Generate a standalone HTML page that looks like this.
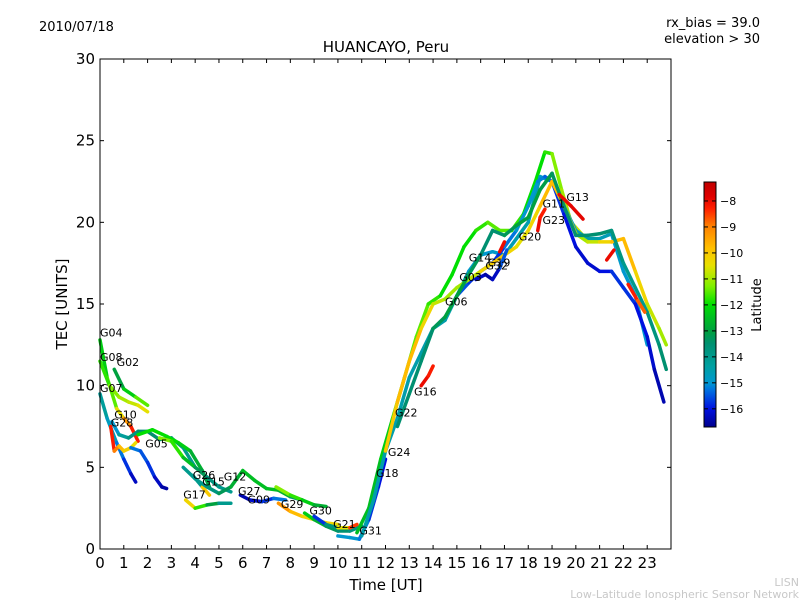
<!DOCTYPE html>
<html><head><meta charset="utf-8"><style>
body{margin:0;background:#fff;}
svg text{font-family:"DejaVu Sans","Liberation Sans",sans-serif;}
</style></head><body>
<svg id="chart" width="800" height="600" xmlns="http://www.w3.org/2000/svg">
<defs>
<linearGradient id="cmap" x1="0" y1="1" x2="0" y2="0"></linearGradient>
</defs>
<text x="39" y="31" font-size="13">2010/07/18</text>
<text x="760" y="27" font-size="13" text-anchor="end">rx_bias = 39.0</text>
<text x="760" y="43" font-size="13" text-anchor="end">elevation &gt; 30</text>
<text x="386" y="52" font-size="15" text-anchor="middle">HUANCAYO, Peru</text>
<text x="386" y="590" font-size="15" text-anchor="middle">Time [UT]</text>
<text x="67" y="304" font-size="15" text-anchor="middle" transform="rotate(-90 67 304)">TEC [UNITS]</text>
<text x="799" y="586" font-size="11" fill="#c8c8c8" text-anchor="end">LISN</text>
<text x="799" y="598" font-size="11" fill="#c8c8c8" text-anchor="end">Low-Latitude Ionospheric Sensor Network</text>
<g id="marks"></g>
<g id="labels" font-size="11"></g>
<rect x="100" y="59" width="571" height="490" fill="none" stroke="#000" stroke-width="1"/>
<g id="axes"></g>
<rect x="704" y="182" width="12" height="245" fill="url(#cmap)" stroke="#000" stroke-width="1"/>
<g id="cbticks" font-size="11"></g>
<text x="761" y="305" font-size="13" text-anchor="middle" transform="rotate(-90 761 305)">Latitude</text>
</svg>
<script>
const xTicks=[0,1,2,3,4,5,6,7,8,9,10,11,12,13,14,15,16,17,18,19,20,21,22,23];
const yTicks=[0,5,10,15,20,25,30];
const cbTicks=[-8,-9,-10,-11,-12,-13,-14,-15,-16];
const latMin=-16.7, latMax=-7.27;
const tracks=[
{t:[0,0.3,0.7,1.0,1.3,1.6],v:[12.8,10.5,8.6,8.0,7.5,6.6],lat:[-12.5,-12,-11,-10,-8.5,-8]},
{t:[0,0.4,0.8,1.2,1.6,2.0],v:[11.5,10,9.3,9.0,8.8,8.4],lat:[-12,-11.5,-11,-11,-10.5,-10.5]},
{t:[0.6,1.0,1.5,2.0],v:[11,9.8,9.3,8.8],lat:[-13.5,-12.5,-12,-11]},
{t:[0,0.3,0.7,1.0,1.3,1.5],v:[9.5,8,6.5,5.5,4.6,4.1],lat:[-14,-14.5,-15,-15.5,-16,-16.5]},
{t:[0.45,0.6,0.8,1.0,1.3,1.5],v:[7.5,6.0,6.3,6.0,6.2,6.5],lat:[-8,-8.5,-9.5,-10,-10.3,-10.5]},
{t:[0.5,0.8,1.2,1.6,2.0,2.5,3.0,3.5,4.0],v:[7.8,7.0,6.8,7.2,7.2,6.7,6.8,6.2,5.0],lat:[-15.5,-14.5,-14,-13.5,-13.5,-13.5,-13.5,-14,-14]},
{t:[1.3,1.7,2.0,2.3,2.6,2.8],v:[6.2,6.0,5.3,4.4,3.8,3.7],lat:[-15,-15.5,-15.5,-16,-16.5,-16.5]},
{t:[1.6,2.2,2.8,3.3,3.8,4.3,4.6],v:[7.0,7.3,6.9,6.5,6.0,4.8,3.8],lat:[-12,-12,-12,-12,-12.5,-13,-13]},
{t:[2.5,3.0,3.5,4.0,4.5,5.0,5.5],v:[6.8,6.6,5.6,5.0,4.4,3.8,3.5],lat:[-11,-11.5,-12,-13,-13.5,-14,-14]},
{t:[3.6,4.0,4.5,5.0,5.5],v:[3.0,2.5,2.7,2.8,2.8],lat:[-9.5,-11,-12.5,-13.5,-14.5]},
{t:[3.9,4.3,4.6],v:[4.5,3.8,3.3],lat:[-16,-12,-8]},
{t:[3.5,4.0,4.5,5.0,5.5,6.0,6.5,7.0,7.5,8.0,8.5],v:[5.0,4.3,3.8,3.4,3.8,4.8,4.2,3.7,3.6,3.2,3.0],lat:[-14,-14,-14,-13.5,-13,-12.5,-12.5,-12.5,-12.5,-13,-14]},
{t:[5.9,6.3,6.8,7.3,7.8],v:[3.3,3.0,2.9,3.1,3.0],lat:[-16.5,-16.3,-16,-15.5,-15]},
{t:[7.4,8.0,8.5,9.0,9.5],v:[3.8,3.3,3.0,2.7,2.6],lat:[-11,-11.5,-12,-12.5,-13]},
{t:[7.5,8.0,8.5,9.0,9.5,10.0],v:[2.8,2.3,2.0,1.8,1.6,1.5],lat:[-9,-9.5,-10,-10.5,-10.5,-10]},
{t:[8.6,9.0,9.5,10.0,10.5,11.0],v:[2.2,1.8,1.4,1.1,1.1,1.4],lat:[-12,-12.5,-13,-13.5,-13.5,-14]},
{t:[9.0,9.5,10.0,10.5,10.8],v:[2.0,1.5,1.3,1.3,1.5],lat:[-16,-15.5,-12,-9,-8]},
{t:[10.0,10.5,10.9,11.3,11.7,12.0],v:[0.8,0.7,0.6,1.8,3.8,5.5],lat:[-15,-15,-15,-15.5,-16,-16]},
{t:[10.8,11.3,11.8,12.3,12.8,13.3,13.8,14.3,14.8,15.3,15.8,16.3,16.8,17.3,17.8,18.3,18.7,19.0,19.4,19.8,20.3],v:[1.0,2.5,5.5,8.0,10.5,13,15,15.5,16.8,18.5,19.5,20,19.5,19.5,20.5,22.5,24.3,24.2,22,20,19.2],lat:[-12.5,-12.5,-12.5,-12,-11.5,-11.5,-11.5,-12,-12,-12,-12,-11.5,-11.5,-11.5,-12,-12,-12,-11.5,-11,-11,-10.5]},
{t:[11,11.5,12,12.5,13,13.5,14,14.5,15,15.5,16,16.5,17,17.5,18,18.5,19,19.5,20,20.5,21,21.5,22,22.5,23],v:[0.8,3,6,8,10.5,12,13.5,14,15.5,17,18,18.2,18,19,20,22.8,22.5,21,19.5,19,19,19.3,17,15.5,12.5],lat:[-14.5,-14.5,-14.5,-14.5,-14.5,-14.5,-14.5,-14.5,-14.5,-14.8,-15,-15,-14.8,-14.5,-14.5,-14.8,-15,-15,-14.8,-14.5,-14.5,-14.8,-15,-15,-15]},
{t:[15,15.5,16,16.5,17,17.5,18,18.4,18.7,19,19.5,20,20.5,21,21.5,22,22.5,23,23.3,23.7],v:[15.5,16.3,17.0,17.5,18.5,19.5,21,22.5,22.8,22.5,20.5,18.5,17.5,17,17,16,15,13,11,9],lat:[-15.5,-15.5,-16,-16,-15.5,-15,-15,-15,-15.3,-15.5,-16,-16,-16.3,-16,-16,-15.5,-16,-16,-16.3,-16.5]},
{t:[12,12.5,13,13.5,14,14.5,15,15.5,16,16.5,17,17.5,18,18.5,19,19.5,20,20.5,21,21.5,22,22.5,23,23.5,23.8],v:[6,9,11.5,13.5,15,15.3,16,16.5,17,17.5,18,18.5,19.5,21,22.5,21,19.3,18.8,18.8,18.8,19,17,15,13.5,12.5],lat:[-10,-10,-9.5,-10,-10.5,-11,-11,-11,-10.5,-10,-10,-10.5,-10.5,-10,-9.5,-10,-11,-11,-10.5,-10,-9.5,-10,-10.5,-11,-11]},
{t:[12.5,13,13.5,14,14.5,15,15.5,16,16.5,17,17.5,18,18.5,19,19.5,20,20.5,21,21.5,22,22.5,23,23.5,23.8],v:[7.5,9.5,11.5,13.5,14.2,15.5,16.8,18,19.5,19.2,19.8,20.3,22,23,21,19.2,19.2,19.3,19.5,17.5,16,14.5,12.5,11],lat:[-13.5,-13.5,-13.5,-13.5,-13,-13,-13,-13.5,-13.5,-13.5,-13,-13,-13,-13.2,-13.5,-13.5,-13.5,-13.5,-13.5,-14,-14,-14,-13.5,-13.5]},
{t:[15.8,16.2,16.5,16.8,17.1],v:[16.5,16.8,16.5,17.2,18.3],lat:[-16,-16.5,-16.5,-16,-15]},
{t:[13.5,13.8,14.0],v:[10.0,10.6,11.2],lat:[-8,-8,-8.5]},
{t:[18.4,18.5,18.7],v:[19.5,20.3,20.8],lat:[-8,-8,-8.5]},
{t:[19.3,19.8,20.3],v:[21.7,21,20.2],lat:[-8,-8,-7.8]},
{t:[21.3,21.6],v:[17.7,18.3],lat:[-8,-8]},
{t:[22.2,22.6,22.9],v:[16.2,15.2,14.5],lat:[-8,-8.5,-9]},
{t:[16.8,17.0],v:[18.2,18.8],lat:[-8,-8]}
];
const labelNames=["G04","G08","G02","G07","G10","G28","G05","G26","G12","G15","G27","G17","G09","G29","G30","G21","G31","G18","G24","G22","G16","G06","G03","G14","G19","G32","G20","G11","G23","G13"];
const labelT=[0,0,0.7,0,0.6,0.45,1.9,3.9,5.2,4.3,5.8,3.5,6.2,7.6,8.8,9.8,10.9,11.6,12.1,12.4,13.2,14.5,15.1,15.5,16.3,16.2,17.6,18.6,18.6,19.6];
const labelV=[13.0,11.5,11.2,9.6,8.0,7.5,6.2,4.3,4.2,3.9,3.3,3.1,2.8,2.5,2.1,1.3,0.9,4.4,5.7,8.1,9.4,14.9,16.4,17.6,17.3,17.1,18.9,20.9,19.9,21.3];
// colormap stops (fraction, rgb)
const cmStops=[[0,[0,0,140]],[0.074,[0,16,224]],[0.15,[0,112,224]],[0.18,[0,152,208]],[0.25,[0,160,160]],[0.34,[0,144,112]],[0.39,[0,160,64]],[0.45,[0,192,32]],[0.5,[0,224,0]],[0.575,[128,240,0]],[0.66,[232,224,0]],[0.73,[255,192,0]],[0.82,[255,128,0]],[0.89,[255,32,0]],[0.94,[224,0,0]],[1,[192,0,0]]];
const X=t=>100+t*571/24, Y=v=>549-v*490/30;
const CB=l=>427-(l-latMin)/(latMax-latMin)*245;
function cmap(l){let x=(l-latMin)/(latMax-latMin);x=Math.max(0,Math.min(1,x));
 for(let i=0;i<cmStops.length-1;i++){const a=cmStops[i],b=cmStops[i+1];
  if(x<=b[0]){const f=(x-a[0])/(b[0]-a[0]);const c=a[1].map((v,k)=>Math.round(v+(b[1][k]-v)*f));return `rgb(${c})`;}}
 return 'rgb(192,0,0)';}
const NS="http://www.w3.org/2000/svg";
const grad=document.getElementById('cmap');
cmStops.forEach(s=>{const st=document.createElementNS(NS,'stop');st.setAttribute('offset',s[0]);st.setAttribute('stop-color',`rgb(${s[1]})`);grad.appendChild(st);});
const mk=document.getElementById('marks');
tracks.forEach((tr,i)=>{
 const g=document.createElementNS(NS,'g');
 
 
 for(let k=0;k<tr.t.length-1;k++){
  const s=document.createElementNS(NS,'line');
  s.setAttribute('x1',X(tr.t[k]));s.setAttribute('y1',Y(tr.v[k]));
  s.setAttribute('x2',X(tr.t[k+1]));s.setAttribute('y2',Y(tr.v[k+1]));
  s.setAttribute('stroke',cmap((tr.lat[k]+tr.lat[k+1])/2));
  s.setAttribute('stroke-width','3.5');s.setAttribute('stroke-linecap','round');
  
  
  g.appendChild(s);
 }
 mk.appendChild(g);
});
const lb=document.getElementById('labels');
labelNames.forEach((n,i)=>{
 const t=document.createElementNS(NS,'text');
 t.setAttribute('x',X(labelT[i]));t.setAttribute('y',Y(labelV[i]));t.textContent=n;
 
 
 lb.appendChild(t);
});
const ax=document.getElementById('axes');
xTicks.forEach(v=>{
 const x=X(v);
 ax.insertAdjacentHTML('beforeend',`<line x1="${x}" y1="549" x2="${x}" y2="545" stroke="#000"/><line x1="${x}" y1="59" x2="${x}" y2="63" stroke="#000"/>`);
 const t=document.createElementNS(NS,'text');t.setAttribute('x',x);t.setAttribute('y',568);
 t.setAttribute('font-size','15');t.setAttribute('text-anchor','middle');t.textContent=v;
 
 
 ax.appendChild(t);
});
yTicks.forEach(v=>{
 const y=Y(v);
 ax.insertAdjacentHTML('beforeend',`<line x1="100" y1="${y}" x2="104" y2="${y}" stroke="#000"/><line x1="671" y1="${y}" x2="667" y2="${y}" stroke="#000"/>`);
 const t=document.createElementNS(NS,'text');t.setAttribute('x',95);t.setAttribute('y',y+5);
 t.setAttribute('font-size','15');t.setAttribute('text-anchor','end');t.textContent=v;
 
 
 ax.appendChild(t);
});
const cb=document.getElementById('cbticks');
cbTicks.forEach(v=>{
 const y=CB(v);
 cb.insertAdjacentHTML('beforeend',`<line x1="704" y1="${y}" x2="708" y2="${y}" stroke="#000"/><line x1="716" y1="${y}" x2="712" y2="${y}" stroke="#000"/>`);
 const t=document.createElementNS(NS,'text');t.setAttribute('x',720);t.setAttribute('y',y+4);
 t.textContent='\u2212'+Math.abs(v);
 
 
 cb.appendChild(t);
});
</script>
</body></html>
